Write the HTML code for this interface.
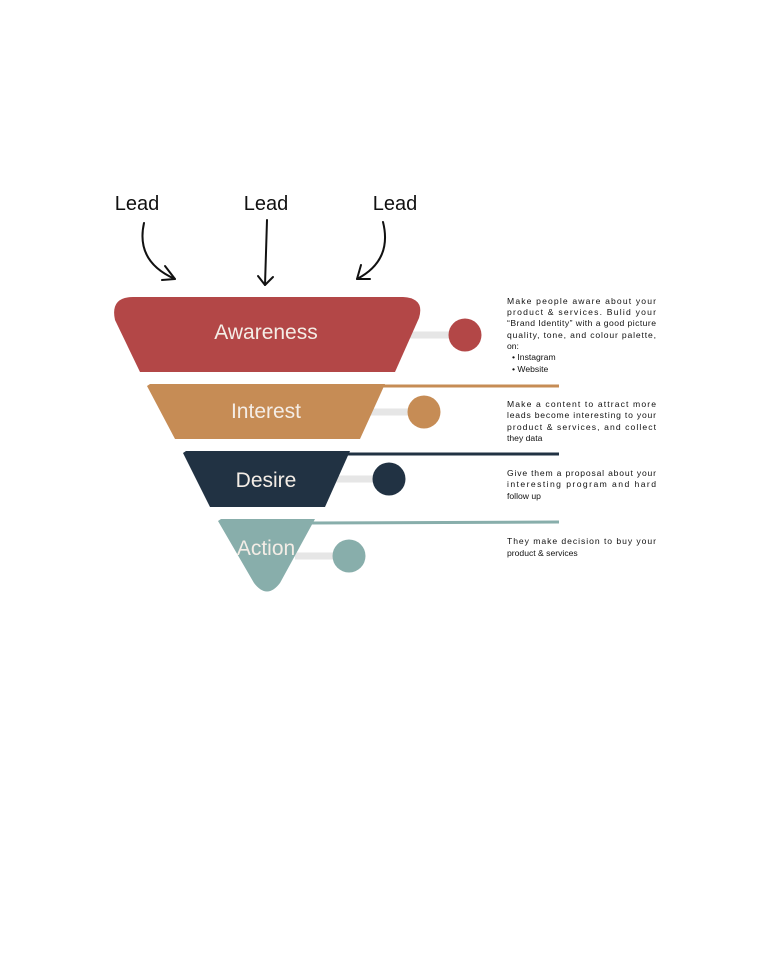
<!DOCTYPE html>
<html><head><meta charset="utf-8"><style>body{margin:0;background:#fff}svg{display:block}</style></head><body>
<svg width="768" height="960" viewBox="0 0 768 960" xmlns="http://www.w3.org/2000/svg" font-family="Liberation Sans, sans-serif">
<rect width="768" height="960" fill="#fff"/>
<g font-size="20" fill="#111" text-anchor="middle">
<text x="137" y="210">Lead</text><text x="266" y="210">Lead</text><text x="395" y="210">Lead</text>
</g>
<g fill="none" stroke="#111" stroke-width="2" stroke-linecap="round" stroke-linejoin="round">
<path d="M144 223 C138 250 150 268 175 279"/><path d="M165 266 L175 279 L162 280"/>
<path d="M267 220 L265 285"/><path d="M258 276 L265 285 L273 277"/>
<path d="M383 222 C390 250 378 268 357 279"/><path d="M361 265 L357 279 L370 279"/>
</g>
<g stroke="#e6e6e6" stroke-width="7">
<line x1="405" y1="335" x2="452" y2="335"/><line x1="370" y1="412" x2="412" y2="412"/>
<line x1="335" y1="479" x2="376" y2="479"/><line x1="295" y1="556" x2="336" y2="556"/>
</g>
<line x1="380" y1="386" x2="559" y2="386" stroke="#c68c55" stroke-width="3"/>
<line x1="345" y1="454" x2="559" y2="454" stroke="#213243" stroke-width="3"/>
<line x1="310" y1="523" x2="559" y2="522" stroke="#88aeab" stroke-width="3"/>
<path d="M133 297 L403 297 Q425 298 419 318 L395 372 L140 372 L115 320 Q110 297 133 297 Z" fill="#b34747"/>
<path d="M150 384 L385 384 L360 439 L175 439 L147 386 Z" fill="#c68c55"/>
<path d="M186 451 L350 451 L325 507 L210 507 L183 453 Z" fill="#213243"/>
<path d="M221 519 L315 519 L280 583 Q267 600 254 583 L218 521 Z" fill="#88aeab"/>
<circle cx="465" cy="335" r="16.5" fill="#b34747"/>
<circle cx="424" cy="412" r="16.5" fill="#c68c55"/>
<circle cx="389" cy="479" r="16.5" fill="#213243"/>
<circle cx="349" cy="556" r="16.5" fill="#88aeab"/>
<g fill="#f4ede6" font-size="21" text-anchor="middle">
<text x="266" y="339">Awareness</text><text x="266" y="418">Interest</text>
<text x="266" y="487">Desire</text><text x="266" y="555">Action</text>
</g>
<g font-size="8.6" fill="#111">
<text x="507" y="304" textLength="149" lengthAdjust="spacing">Make people aware about your</text>
<text x="507" y="315" textLength="149" lengthAdjust="spacing">product &amp; services. Bulid your</text>
<text x="507" y="326" textLength="149" lengthAdjust="spacing">“Brand Identity” with a good picture</text>
<text x="507" y="338" textLength="149" lengthAdjust="spacing">quality, tone, and colour palette,</text>
<text x="507" y="349">on:</text>
<text x="512" y="360">•  Instagram</text>
<text x="512" y="372">•  Website</text>
<text x="507" y="407" textLength="149" lengthAdjust="spacing">Make a content to attract more</text>
<text x="507" y="418" textLength="149" lengthAdjust="spacing">leads become interesting to your</text>
<text x="507" y="430" textLength="149" lengthAdjust="spacing">product &amp; services,  and collect</text>
<text x="507" y="441">they data</text>
<text x="507" y="476" textLength="149" lengthAdjust="spacing">Give them a proposal about your</text>
<text x="507" y="487" textLength="149" lengthAdjust="spacing">interesting program and hard</text>
<text x="507" y="499">follow up</text>
<text x="507" y="544" textLength="149" lengthAdjust="spacing">They make decision to buy your</text>
<text x="507" y="556">product &amp; services</text>
</g>
</svg>
</body></html>
